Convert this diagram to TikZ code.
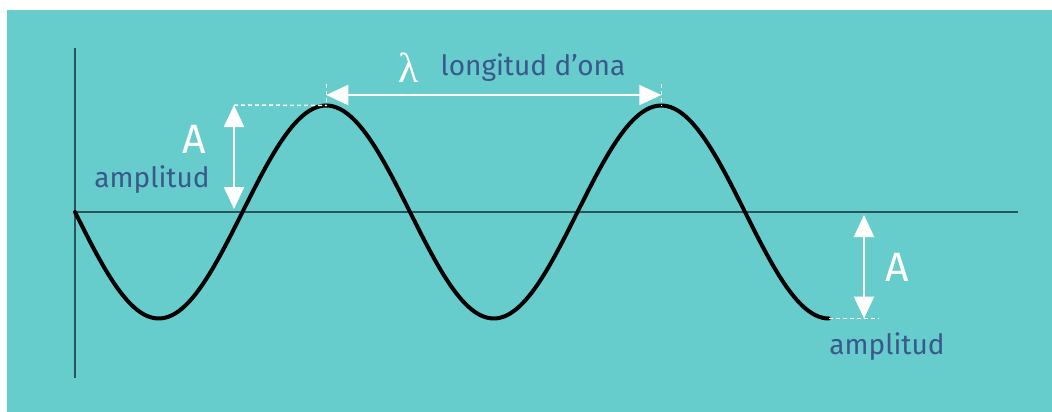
\documentclass[tikz,border=0pt]{standalone}
\usepackage{fontspec}
\setmainfont{Fira Sans}
\newfontfamily\serifl{Liberation Serif}
\usetikzlibrary{arrows.meta}
\definecolor{bgteal}{RGB}{102,204,204}
\definecolor{txtblue}{RGB}{58,88,140}
\definecolor{axisc}{RGB}{40,85,90}
\tikzset{
  axisline/.style={draw=axisc, line width=2pt},
  wave/.style={draw=black, line width=4pt, line cap=round},
  warrow/.style={draw=white, line width=2.2pt, {Triangle[length=22pt,width=20pt]}-{Triangle[length=22pt,width=20pt]}},
  wdash/.style={draw=white, line width=1.5pt, dash pattern=on 4pt off 3pt},
  bluetxt/.style={text=txtblue, font=\fontsize{28}{30}\selectfont, inner sep=0pt},
  whitetxt/.style={text=white, font=\fontsize{41}{43}\selectfont, inner sep=0pt}
}
\begin{document}
\begin{tikzpicture}[x=1pt,y=-1pt]
\fill[white] (0,0) rectangle (1052,412);
\fill[bgteal] (7,10) rectangle (1052,412);
\useasboundingbox (0,0) rectangle (1052,412);
% axes
\coordinate (yt) at (75,48);
\coordinate (yb) at (75,378);
\coordinate (o) at (75,212);
\coordinate (xe) at (1018,212);
\draw[axisline] (yt) -- (yb);
\draw[axisline] (o) -- (xe);
% wave (period 335 px)
\draw[wave] plot[domain=0:753.75, samples=220, smooth] ({\x+75},{212+106.5*sin(\x*1.074627)});
% key points
\coordinate (p1) at (326.25,105.5);
\coordinate (p2) at (661.25,105.5);
\coordinate (m3) at (828.75,318.5);
% lambda arrow
\coordinate (la) at (326.25,95);
\coordinate (lb) at (661.25,95);
\coordinate (la0) at (326.25,84);
\coordinate (lb0) at (661.25,84);
\draw[wdash] (la0) -- (p1);
\draw[wdash] (lb0) -- (p2);
\draw[warrow] (la) -- (lb);
% left amplitude
\coordinate (a1t) at (234,105);
\coordinate (a1b) at (234,209);
\draw[wdash] (a1t) -- (p1);
\draw[warrow] (a1t) -- (a1b);
% right amplitude
\coordinate (a2t) at (864,215);
\coordinate (a2b) at (864,318.5);
\coordinate (d2e) at (878,318.5);
\draw[wdash] (m3) -- (d2e);
\draw[warrow] (a2t) -- (a2b);
% labels
\node[whitetxt, font=\fontsize{42}{44}\serifl] (lam) at (409,68) {λ};
\node[bluetxt] (lon) at (533,68) {longitud d'ona};
\node[whitetxt] (A1) at (194,139) {A};
\node[bluetxt] (amp1) at (152,180) {amplitud};
\node[whitetxt] (A2) at (897,267) {A};
\node[bluetxt] (amp2) at (887,347) {amplitud};
\end{tikzpicture}
\end{document}
